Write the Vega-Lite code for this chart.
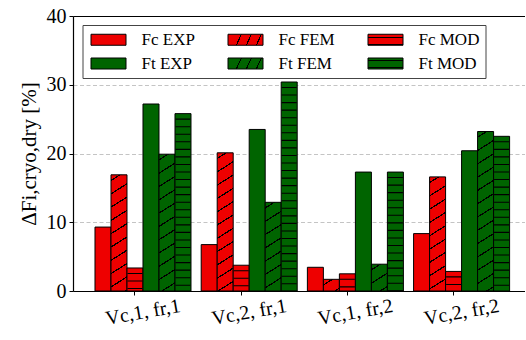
{
  "$schema": "https://vega.github.io/schema/vega-lite/v6.json",
  "width": 452,
  "height": 275,
  "autosize": {"type": "none"},
  "padding": {"left": 73, "top": 16, "right": 0, "bottom": 44},
  "background": "white",
  "view": {"stroke": null, "fill": null},
  "config": {"view": {"stroke": null}, "font": "Liberation Serif"},
  "params": [
    {"name": "hatchR", "value": [
      {"offset": 0, "color": "#ee0000"},
      {"offset": 0.02778, "color": "#ee0000"}, {"offset": 0.02778, "color": "#000"}, {"offset": 0.03556, "color": "#000"}, {"offset": 0.03556, "color": "#ee0000"},
      {"offset": 0.10167, "color": "#ee0000"}, {"offset": 0.10167, "color": "#000"}, {"offset": 0.10944, "color": "#000"}, {"offset": 0.10944, "color": "#ee0000"},
      {"offset": 0.17556, "color": "#ee0000"}, {"offset": 0.17556, "color": "#000"}, {"offset": 0.18333, "color": "#000"}, {"offset": 0.18333, "color": "#ee0000"},
      {"offset": 0.24944, "color": "#ee0000"}, {"offset": 0.24944, "color": "#000"}, {"offset": 0.25722, "color": "#000"}, {"offset": 0.25722, "color": "#ee0000"},
      {"offset": 0.32333, "color": "#ee0000"}, {"offset": 0.32333, "color": "#000"}, {"offset": 0.33111, "color": "#000"}, {"offset": 0.33111, "color": "#ee0000"},
      {"offset": 0.39722, "color": "#ee0000"}, {"offset": 0.39722, "color": "#000"}, {"offset": 0.405, "color": "#000"}, {"offset": 0.405, "color": "#ee0000"},
      {"offset": 0.47111, "color": "#ee0000"}, {"offset": 0.47111, "color": "#000"}, {"offset": 0.47889, "color": "#000"}, {"offset": 0.47889, "color": "#ee0000"},
      {"offset": 0.545, "color": "#ee0000"}, {"offset": 0.545, "color": "#000"}, {"offset": 0.55278, "color": "#000"}, {"offset": 0.55278, "color": "#ee0000"},
      {"offset": 0.61889, "color": "#ee0000"}, {"offset": 0.61889, "color": "#000"}, {"offset": 0.62667, "color": "#000"}, {"offset": 0.62667, "color": "#ee0000"},
      {"offset": 0.69278, "color": "#ee0000"}, {"offset": 0.69278, "color": "#000"}, {"offset": 0.70056, "color": "#000"}, {"offset": 0.70056, "color": "#ee0000"},
      {"offset": 0.76667, "color": "#ee0000"}, {"offset": 0.76667, "color": "#000"}, {"offset": 0.77444, "color": "#000"}, {"offset": 0.77444, "color": "#ee0000"},
      {"offset": 0.84056, "color": "#ee0000"}, {"offset": 0.84056, "color": "#000"}, {"offset": 0.84833, "color": "#000"}, {"offset": 0.84833, "color": "#ee0000"},
      {"offset": 0.91444, "color": "#ee0000"}, {"offset": 0.91444, "color": "#000"}, {"offset": 0.92222, "color": "#000"}, {"offset": 0.92222, "color": "#ee0000"},
      {"offset": 0.98833, "color": "#ee0000"}, {"offset": 0.98833, "color": "#000"}, {"offset": 0.99611, "color": "#000"}, {"offset": 0.99611, "color": "#ee0000"},
      {"offset": 1, "color": "#ee0000"}
    ]},
    {"name": "hatchG", "value": [
      {"offset": 0, "color": "#006400"},
      {"offset": 0.02778, "color": "#006400"}, {"offset": 0.02778, "color": "#000"}, {"offset": 0.03556, "color": "#000"}, {"offset": 0.03556, "color": "#006400"},
      {"offset": 0.10167, "color": "#006400"}, {"offset": 0.10167, "color": "#000"}, {"offset": 0.10944, "color": "#000"}, {"offset": 0.10944, "color": "#006400"},
      {"offset": 0.17556, "color": "#006400"}, {"offset": 0.17556, "color": "#000"}, {"offset": 0.18333, "color": "#000"}, {"offset": 0.18333, "color": "#006400"},
      {"offset": 0.24944, "color": "#006400"}, {"offset": 0.24944, "color": "#000"}, {"offset": 0.25722, "color": "#000"}, {"offset": 0.25722, "color": "#006400"},
      {"offset": 0.32333, "color": "#006400"}, {"offset": 0.32333, "color": "#000"}, {"offset": 0.33111, "color": "#000"}, {"offset": 0.33111, "color": "#006400"},
      {"offset": 0.39722, "color": "#006400"}, {"offset": 0.39722, "color": "#000"}, {"offset": 0.405, "color": "#000"}, {"offset": 0.405, "color": "#006400"},
      {"offset": 0.47111, "color": "#006400"}, {"offset": 0.47111, "color": "#000"}, {"offset": 0.47889, "color": "#000"}, {"offset": 0.47889, "color": "#006400"},
      {"offset": 0.545, "color": "#006400"}, {"offset": 0.545, "color": "#000"}, {"offset": 0.55278, "color": "#000"}, {"offset": 0.55278, "color": "#006400"},
      {"offset": 0.61889, "color": "#006400"}, {"offset": 0.61889, "color": "#000"}, {"offset": 0.62667, "color": "#000"}, {"offset": 0.62667, "color": "#006400"},
      {"offset": 0.69278, "color": "#006400"}, {"offset": 0.69278, "color": "#000"}, {"offset": 0.70056, "color": "#000"}, {"offset": 0.70056, "color": "#006400"},
      {"offset": 0.76667, "color": "#006400"}, {"offset": 0.76667, "color": "#000"}, {"offset": 0.77444, "color": "#000"}, {"offset": 0.77444, "color": "#006400"},
      {"offset": 0.84056, "color": "#006400"}, {"offset": 0.84056, "color": "#000"}, {"offset": 0.84833, "color": "#000"}, {"offset": 0.84833, "color": "#006400"},
      {"offset": 0.91444, "color": "#006400"}, {"offset": 0.91444, "color": "#000"}, {"offset": 0.92222, "color": "#000"}, {"offset": 0.92222, "color": "#006400"},
      {"offset": 0.98833, "color": "#006400"}, {"offset": 0.98833, "color": "#000"}, {"offset": 0.99611, "color": "#000"}, {"offset": 0.99611, "color": "#006400"},
      {"offset": 1, "color": "#006400"}
    ]},
    {"name": "legFemR", "value": {"gradient": "linear", "x1": 0, "y1": 0, "x2": 1.12, "y2": 0.16, "stops": [
      {"offset": 0, "color": "#ee0000"},
      {"offset": 0.3182, "color": "#ee0000"}, {"offset": 0.3182, "color": "#000"}, {"offset": 0.3477, "color": "#000"}, {"offset": 0.3477, "color": "#ee0000"},
      {"offset": 0.5682, "color": "#ee0000"}, {"offset": 0.5682, "color": "#000"}, {"offset": 0.5977, "color": "#000"}, {"offset": 0.5977, "color": "#ee0000"},
      {"offset": 0.8182, "color": "#ee0000"}, {"offset": 0.8182, "color": "#000"}, {"offset": 0.8477, "color": "#000"}, {"offset": 0.8477, "color": "#ee0000"},
      {"offset": 1, "color": "#ee0000"}]}},
    {"name": "legFemG", "value": {"gradient": "linear", "x1": 0, "y1": 0, "x2": 1.12, "y2": 0.16, "stops": [
      {"offset": 0, "color": "#006400"},
      {"offset": 0.3182, "color": "#006400"}, {"offset": 0.3182, "color": "#000"}, {"offset": 0.3477, "color": "#000"}, {"offset": 0.3477, "color": "#006400"},
      {"offset": 0.5682, "color": "#006400"}, {"offset": 0.5682, "color": "#000"}, {"offset": 0.5977, "color": "#000"}, {"offset": 0.5977, "color": "#006400"},
      {"offset": 0.8182, "color": "#006400"}, {"offset": 0.8182, "color": "#000"}, {"offset": 0.8477, "color": "#000"}, {"offset": 0.8477, "color": "#006400"},
      {"offset": 1, "color": "#006400"}]}},
    {"name": "legModR", "value": {"gradient": "linear", "x1": 0, "y1": 0, "x2": 0, "y2": 1, "stops": [
      {"offset": 0, "color": "#ee0000"},
      {"offset": 0.22, "color": "#ee0000"}, {"offset": 0.22, "color": "#000"}, {"offset": 0.31, "color": "#000"}, {"offset": 0.31, "color": "#ee0000"},
      {"offset": 0.86, "color": "#ee0000"}, {"offset": 0.86, "color": "#000"}, {"offset": 0.95, "color": "#000"}, {"offset": 0.95, "color": "#ee0000"},
      {"offset": 1, "color": "#ee0000"}]}},
    {"name": "legModG", "value": {"gradient": "linear", "x1": 0, "y1": 0, "x2": 0, "y2": 1, "stops": [
      {"offset": 0, "color": "#006400"},
      {"offset": 0.22, "color": "#006400"}, {"offset": 0.22, "color": "#000"}, {"offset": 0.31, "color": "#000"}, {"offset": 0.31, "color": "#006400"},
      {"offset": 0.86, "color": "#006400"}, {"offset": 0.86, "color": "#000"}, {"offset": 0.95, "color": "#000"}, {"offset": 0.95, "color": "#006400"},
      {"offset": 1, "color": "#006400"}]}}
  ],
  "data": {"values": [
    {"group": "Vc,1, fr,1", "series": "Fc EXP", "pct": 9.3},
    {"group": "Vc,1, fr,1", "series": "Fc FEM", "pct": 16.9},
    {"group": "Vc,1, fr,1", "series": "Fc MOD", "pct": 3.35},
    {"group": "Vc,1, fr,1", "series": "Ft EXP", "pct": 27.2},
    {"group": "Vc,1, fr,1", "series": "Ft FEM", "pct": 19.9},
    {"group": "Vc,1, fr,1", "series": "Ft MOD", "pct": 25.8},
    {"group": "Vc,2, fr,1", "series": "Fc EXP", "pct": 6.75},
    {"group": "Vc,2, fr,1", "series": "Fc FEM", "pct": 20.1},
    {"group": "Vc,2, fr,1", "series": "Fc MOD", "pct": 3.75},
    {"group": "Vc,2, fr,1", "series": "Ft EXP", "pct": 23.5},
    {"group": "Vc,2, fr,1", "series": "Ft FEM", "pct": 12.9},
    {"group": "Vc,2, fr,1", "series": "Ft MOD", "pct": 30.4},
    {"group": "Vc,1, fr,2", "series": "Fc EXP", "pct": 3.45},
    {"group": "Vc,1, fr,2", "series": "Fc FEM", "pct": 1.7},
    {"group": "Vc,1, fr,2", "series": "Fc MOD", "pct": 2.5},
    {"group": "Vc,1, fr,2", "series": "Ft EXP", "pct": 17.3},
    {"group": "Vc,1, fr,2", "series": "Ft FEM", "pct": 3.9},
    {"group": "Vc,1, fr,2", "series": "Ft MOD", "pct": 17.3},
    {"group": "Vc,2, fr,2", "series": "Fc EXP", "pct": 8.35},
    {"group": "Vc,2, fr,2", "series": "Fc FEM", "pct": 16.6},
    {"group": "Vc,2, fr,2", "series": "Fc MOD", "pct": 2.85},
    {"group": "Vc,2, fr,2", "series": "Ft EXP", "pct": 20.4},
    {"group": "Vc,2, fr,2", "series": "Ft FEM", "pct": 23.2},
    {"group": "Vc,2, fr,2", "series": "Ft MOD", "pct": 22.5}
  ]},
  "encoding": {
    "x": {
      "field": "group", "type": "nominal", "sort": null,
      "scale": {"paddingInner": 0.096, "paddingOuter": 0.17605, "align": 0.588},
      "axis": {
        "title": null, "grid": false, "bandPosition": 0.4167,
        "labelAngle": -10, "labelAlign": "center", "labelBaseline": "middle",
        "labelPadding": 17, "labelFont": "Liberation Serif", "labelFontSize": 20, "labelColor": "black",
        "tickSize": 4, "tickColor": "black", "domainColor": "black", "domainWidth": 1.2
      }
    },
    "xOffset": {
      "field": "series", "type": "nominal",
      "scale": {"domain": ["Fc EXP", "Fc FEM", "Fc MOD", "Ft EXP", "Ft FEM", "Ft MOD"], "paddingInner": 0, "paddingOuter": 0}
    },
    "y": {
      "field": "pct", "type": "quantitative",
      "title": "ΔFi,cryo,dry [%]",
      "scale": {"domain": [0, 40], "nice": false},
      "axis": {
        "values": [0, 10, 20, 30, 40], "tickSize": 4, "labelPadding": 3,
        "labelFont": "Liberation Serif", "labelFontSize": 20, "labelColor": "black",
        "titleFont": "Liberation Serif", "titleFontSize": 21, "titleFontWeight": "normal", "titleColor": "black", "titlePadding": 7,
        "domainColor": "black", "domainWidth": 1.2, "tickColor": "black",
        "gridColor": {"condition": {"test": "datum.value === 40", "value": "black"}, "value": "#c4c4c4"},
        "gridDash": {"condition": {"test": "datum.value === 40", "value": []}, "value": [4, 2.5]},
        "gridWidth": {"condition": {"test": "datum.value === 40", "value": 1.2}, "value": 1}
      }
    }
  },
  "layer": [
    {
      "mark": {"type": "bar", "stroke": "black", "strokeWidth": 1},
      "encoding": {
        "fill": {
          "field": "series", "type": "nominal",
          "scale": {
            "domain": ["Fc EXP", "Fc FEM", "Fc MOD", "Ft EXP", "Ft FEM", "Ft MOD"],
            "range": ["#ee0000", {"expr": "legFemR"}, {"expr": "legModR"}, "#006400", {"expr": "legFemG"}, {"expr": "legModG"}]
          },
          "condition": [
            {"test": "datum.series === 'Fc FEM'", "value": {"expr": "{gradient: 'linear', x1: 0, y1: 0, x2: 1814.4 / (101.6 + pow(datum.pct * 6.875, 2)), y2: 1237.5 * datum.pct / (101.6 + pow(datum.pct * 6.875, 2)), stops: hatchR}"}},
            {"test": "datum.series === 'Ft FEM'", "value": {"expr": "{gradient: 'linear', x1: 0, y1: 0, x2: 1814.4 / (101.6 + pow(datum.pct * 6.875, 2)), y2: 1237.5 * datum.pct / (101.6 + pow(datum.pct * 6.875, 2)), stops: hatchG}"}},
            {"test": "datum.series === 'Fc MOD'", "value": "#ee0000"},
            {"test": "datum.series === 'Ft MOD'", "value": "#006400"}
          ],
          "legend": {
            "title": null, "orient": "none", "legendX": 9.5, "legendY": 9,
            "direction": "horizontal", "columns": 3,
            "symbolType": "M-1,-0.9167L4.8333,-0.9167L4.8333,0.9167L-1,0.9167Z",
            "symbolSize": 144, "symbolStrokeColor": "black", "symbolStrokeWidth": 1,
            "labelFont": "Liberation Serif", "labelFontSize": 17, "labelColor": "black", "labelOffset": 36,
            "columnPadding": 30, "rowPadding": 6, "padding": 6,
            "strokeColor": "#444", "fillColor": "white", "cornerRadius": 0
          }
        }
      }
    },
    {
      "transform": [{"filter": "indexof(datum.series, 'MOD') >= 0"}],
      "mark": {"type": "rule", "color": "black", "strokeWidth": 15, "strokeDash": [1.1, 6.45], "strokeDashOffset": 2.6, "strokeCap": "butt"},
      "encoding": {
        "y2": {"datum": 0}
      }
    }
  ]
}
